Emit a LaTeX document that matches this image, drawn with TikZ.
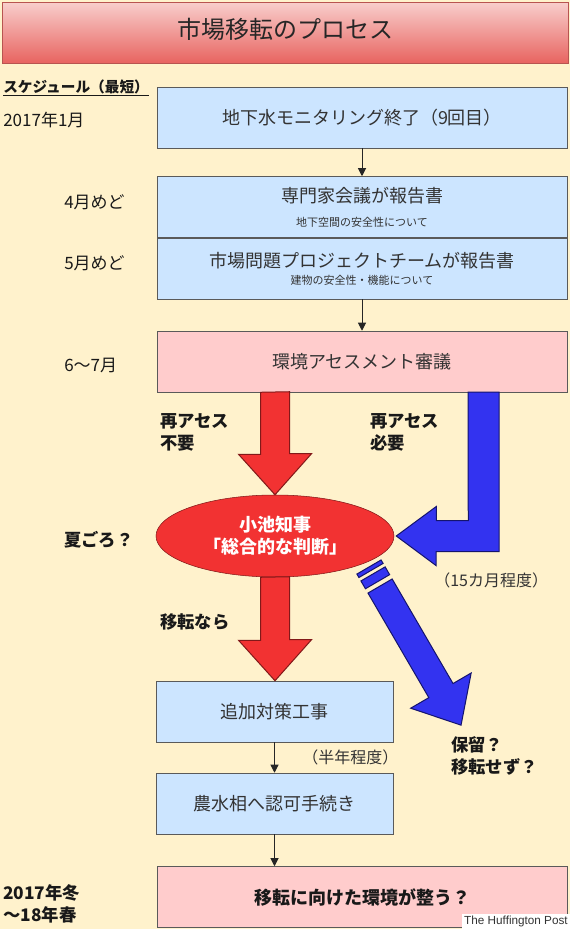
\documentclass[tikz,border=0pt]{standalone}
\usepackage{fontspec}
\setmainfont{Noto Sans CJK JP}
\newfontfamily\hpfont{Liberation Sans}
\usetikzlibrary{shapes.geometric,calc,arrows.meta}

\definecolor{cream}{RGB}{255,242,204}
\definecolor{boxblue}{RGB}{204,229,255}
\definecolor{boxpink}{RGB}{255,204,204}
\definecolor{edgegray}{RGB}{90,90,90}
\definecolor{txtgray}{RGB}{51,51,51}
\definecolor{titletop}{RGB}{248,206,204}
\definecolor{titlebot}{RGB}{232,100,96}
\definecolor{titleedge}{RGB}{184,84,80}
\definecolor{arrred}{RGB}{242,50,50}
\definecolor{arrredline}{RGB}{130,25,25}
\definecolor{arrblue}{RGB}{51,51,240}
\definecolor{arrblueline}{RGB}{20,20,110}

\tikzstyle{titlebar} = [rectangle, draw=titleedge, top color=titletop, bottom color=titlebot,
                        minimum width=424.5pt, minimum height=45.75pt, text=black!85,
                        font=\fontsize{18}{22}\selectfont]
\tikzstyle{wbox} = [rectangle, draw=edgegray, fill=boxblue, text=txtgray, inner sep=0pt,
                    minimum width=307.5pt, minimum height=45.75pt, align=center,
                    font=\fontsize{13.5}{13}\selectfont]
\tikzstyle{nbox} = [wbox, minimum width=177.75pt]
\tikzstyle{judgeshape} = [ellipse, draw=arrredline, fill=arrred, text=white, inner sep=0pt,
                          minimum width=178.5pt, minimum height=61.5pt, align=center,
                          font=\bfseries\fontsize{13.5}{16.5}\selectfont]
\tikzstyle{when} = [anchor=west, inner sep=0pt, text=black!90, font=\fontsize{12.75}{16}\selectfont]
\tikzstyle{cond} = [anchor=west, inner sep=0pt, align=left, text=black!90,
                    font=\bfseries\fontsize{13}{16.5}\selectfont]
\tikzstyle{span} = [anchor=west, inner sep=0pt, text=txtgray, font=\fontsize{12}{14}\selectfont]
\tikzstyle{flow} = [->, >={Triangle[width=6pt,length=6pt]}, line width=0.75pt, black!85]
\tikzstyle{redblk} = [fill=arrred, draw=arrredline, line width=0.75pt]
\tikzstyle{blublk} = [fill=arrblue, draw=arrblueline, line width=0.75pt]

\begin{document}
\begin{tikzpicture}[x=0.75pt, y=-0.75pt]
  \useasboundingbox (0,0) rectangle (570,929);
  \fill[cream] (0,0) rectangle (570,929);

  %% Title and schedule column
  \node (head) [titlebar, text depth=6pt] at (285,32.5) {市場移転のプロセス};
  \node (sched) [when, font=\bfseries\fontsize{11}{12}\selectfont] at (3,88)
        {\underline{スケジュール（最短）}};
  \node (tjan) [when] at (3,120) {2017年1月};
  \node (tapr) [when] at (64,202) {4月めど};
  \node (tmay) [when] at (64,263) {5月めど};
  \node (tjun) [when] at (64,365) {6〜7月};
  \node (tsummer) [cond] at (64,540) {夏ごろ？};
  \node (twinter) [cond] at (3,904) {2017年冬\\〜18年春};

  %% Main flow down
  \node (monitor) [wbox] at (362,117.5) {地下水モニタリング終了（9回目）};
  \node (expert) [wbox] at (362,207)
        {専門家会議が報告書\\[5pt]{\fontsize{8.25}{9}\selectfont 地下空間の安全性について}};
  \node (team) [wbox] at (362,268.5)
        {市場問題プロジェクトチームが報告書\\[0pt]{\fontsize{8.25}{9}\selectfont 建物の安全性・機能について}};
  \node (assess) [wbox, fill=boxpink] at (362,361.5) {環境アセスメント審議};
  \node (judge) [judgeshape] at (275,536) {小池知事\\「総合的な判断」};
  \node (works) [nbox] at (274.5,711.5) {追加対策工事};
  \node (permit) [nbox] at (274.5,803.5) {農水相へ認可手続き};
  \node (ready) [wbox, fill=boxpink, text=black!90, font=\bfseries\fontsize{13.5}{16}\selectfont]
        at (362,897) {移転に向けた環境が整う？};

  \draw [flow] (monitor) -- (expert);
  \draw [flow] (team) -- (assess);
  \draw [flow] (works) -- (permit);
  \draw [flow] (permit) -- (permit |- ready.north);

  %% Branch labels
  \node (noreassess) [cond] at (160,432) {再アセス\\不要};
  \node (reassess) [cond] at (370,432) {再アセス\\必要};
  \node (ifmove) [cond] at (160,622) {移転なら};
  \node (hold) [cond] at (451,756) {保留？\\移転せず？};
  \node (span15) [span] at (434,580) {（15カ月程度）};
  \node (span6) [span] at (302,757) {（半年程度）};

  %% Block arrows
  \draw [redblk] ($(assess.south -| judge.north)+(-14.5,0)$) -- ++(0,62) -- ++(-22,0)
        -- (judge.north) -- ++(36.5,-41) -- ++(-22,0) -- ++(0,-62) -- cycle;
  \draw [redblk] ($(judge.south)+(-14.5,0)$) -- ++(0,63) -- ++(-22,0)
        -- (judge.south |- works.north) -- ++(36.5,-41) -- ++(-22,0) -- ++(0,-63) -- cycle;

  \coordinate (btip) at ($(judge.east)+(2,0)$);
  \draw [blublk] (btip) -- ++(40,-29.5) -- ++(0,14) -- ++(32,0) -- (468,392) -- (499,392)
        -- (499,551.5) -- (436,551.5) -- ++(0,14) -- cycle;

  \coordinate (holdtail) at ($(judge.center)+(94,31)$);
  \begin{scope}[shift={(holdtail)}, rotate=-59.8]
    \draw [blublk] (0,-14) rectangle (4,14);
    \draw [blublk] (8,-14) rectangle (17,14);
    \draw [blublk] (22,-14) -- (143,-14) -- (143,-35) -- (183,0) -- (143,35) -- (143,14)
          -- (22,14) -- cycle;
  \end{scope}

  \node (hp) [anchor=south east, fill=white, inner sep=1.5pt, text=black!80,
              font=\hpfont\fontsize{8.8}{9}\selectfont] at (570,929) {The Huffington Post};
\end{tikzpicture}
\end{document}
